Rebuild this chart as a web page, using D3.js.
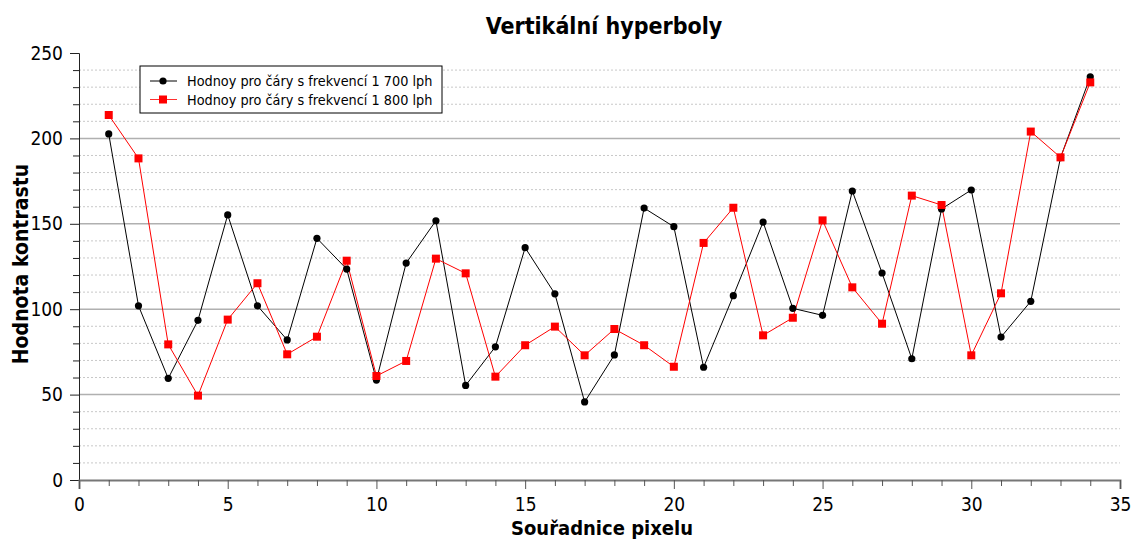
<!DOCTYPE html>
<html>
<head>
<meta charset="utf-8">
<script src="https://cdn.jsdelivr.net/npm/d3@7"></script>
<style>
  body { margin: 0; background: #fff; }
  svg text { font-family: "DejaVu Sans Condensed", "Liberation Sans", sans-serif; fill: #000; }
</style>
</head>
<body>
<div id="chart"></div>
<script>
// pixel index (1..34)
var pixels = d3.range(1, 35);

// series values
var vals1700 = [202.6, 102, 59.5, 93.5, 155.2, 102, 82, 141.5, 123.5, 58.5,
                127, 151.8, 55.4, 78, 136, 109, 45.7, 73.2, 159.2, 148.3,
                66, 107.9, 151, 100.5, 96.4, 169.2, 121.2, 71, 158.7, 169.8,
                83.7, 104.6, 188.7, 236.1];
var vals1800 = [213.7, 188.3, 79.4, 49.4, 93.9, 115.2, 73.6, 83.9, 128.4, 60.9,
                69.7, 129.6, 121, 60.5, 78.9, 89.8, 73, 88.4, 78.9, 66.3,
                138.8, 159.4, 84.7, 95, 152, 112.8, 91.5, 166.5, 161, 73,
                109.3, 204, 188.9, 232.8];

var seriesNames = ["Hodnoy pro čáry s frekvencí 1 700 lph",
                   "Hodnoy pro čáry s frekvencí 1 800 lph"];
var xTicks = [0, 5, 10, 15, 20, 25, 30, 35];
var yTicks = [0, 50, 100, 150, 200, 250];

var svgWidth = 1131;
var svgHeight = 540;
var margin = { top: 53, right: 11, bottom: 60, left: 79 };
var width = svgWidth - margin.left - margin.right;
var height = svgHeight - margin.top - margin.bottom;

var svg = d3.select("#chart").append("svg")
    .attr("width", svgWidth)
    .attr("height", svgHeight);

var g = svg.append("g")
    .attr("transform", `translate(${margin.left},${margin.top})`);

var x = d3.scaleLinear().domain([0, 35]).range([0, width]);
var y = d3.scaleLinear().domain([0, 250]).range([height, 0]);

// grid lines: dotted every 10, solid every 50
var minor = d3.range(10, 250, 10).filter(d => d % 50 !== 0);
g.selectAll(".gminor").data(minor).enter().append("line")
    .attr("x1", 0).attr("x2", width)
    .attr("y1", d => y(d)).attr("y2", d => y(d))
    .attr("stroke", "#c8c8c8")
    .attr("stroke-dasharray", "2,2");
g.selectAll(".gmajor").data([50, 100, 150, 200]).enter().append("line")
    .attr("x1", 0).attr("x2", width)
    .attr("y1", d => y(d)).attr("y2", d => y(d))
    .attr("stroke", "#b0b0b0")
    .attr("stroke-width", 1.5);

// y axis
var yAxis = g.append("g")
    .call(d3.axisLeft(y).tickValues(yTicks).tickSize(9).tickPadding(7));
yAxis.selectAll("text").style("font-size", "19px");
yAxis.select(".domain").attr("stroke", "#222");
yAxis.selectAll(".tick line").attr("stroke", "#222");
g.append("g")
    .call(d3.axisLeft(y).tickValues(d3.range(0, 251, 10).filter(d => d % 50 !== 0))
        .tickSize(6).tickFormat(""))
    .call(a => a.select(".domain").remove())
    .selectAll(".tick line").attr("stroke", "#222");

// x axis
var xAxis = g.append("g")
    .attr("transform", `translate(0,${height})`)
    .call(d3.axisBottom(x).tickValues(xTicks).tickSize(9).tickPadding(9));
xAxis.selectAll("text").style("font-size", "19px");
xAxis.select(".domain").attr("stroke", "#777").attr("stroke-width", 2);
xAxis.selectAll(".tick line").attr("stroke", "#555");
g.append("g")
    .attr("transform", `translate(0,${height})`)
    .call(d3.axisBottom(x).tickValues(d3.range(1, 35).filter(d => d % 5 !== 0))
        .tickSize(6).tickFormat(""))
    .call(a => a.select(".domain").remove())
    .selectAll(".tick line").attr("stroke", "#555");

// lines
var line = d3.line().x((d, i) => x(pixels[i])).y(d => y(d));

g.append("path").datum(vals1700)
    .attr("d", line).attr("fill", "none")
    .attr("stroke", "#000").attr("stroke-width", 1);
g.append("path").datum(vals1800)
    .attr("d", line).attr("fill", "none")
    .attr("stroke", "#ff0000").attr("stroke-width", 1);

g.selectAll(".dot").data(vals1700).enter().append("circle")
    .attr("cx", (d, i) => x(pixels[i]))
    .attr("cy", d => y(d))
    .attr("r", 3.6)
    .attr("fill", "#000");

g.selectAll(".sq").data(vals1800).enter().append("rect")
    .attr("x", (d, i) => x(pixels[i]) - 4)
    .attr("y", d => y(d) - 4)
    .attr("width", 8).attr("height", 8)
    .attr("fill", "#ff0000");

// legend
var legend = svg.append("g").attr("transform", "translate(140,66)");
legend.append("rect")
    .attr("width", 302).attr("height", 47)
    .attr("fill", "#fff").attr("stroke", "#000").attr("stroke-width", 1);
[0, 1].forEach(function(i) {
    var ly = 15 + i * 18.5;
    var col = i === 0 ? "#000" : "#ff3030";
    legend.append("line")
        .attr("x1", 10).attr("x2", 37).attr("y1", ly).attr("y2", ly)
        .attr("stroke", col).attr("stroke-width", 1);
    if (i === 0) {
        legend.append("circle").attr("cx", 23).attr("cy", ly).attr("r", 3.6).attr("fill", "#000");
    } else {
        legend.append("rect").attr("x", 19).attr("y", ly - 4)
            .attr("width", 8).attr("height", 8).attr("fill", "#ff0000");
    }
    legend.append("text")
        .attr("x", 47).attr("y", ly)
        .attr("dy", "0.35em")
        .style("font-size", "14.3px")
        .text(seriesNames[i]);
});

// title and axis labels
svg.append("text")
    .attr("x", 604).attr("y", 34)
    .attr("text-anchor", "middle")
    .style("font-size", "23px").style("font-weight", "bold")
    .text("Vertikální hyperboly");

svg.append("text")
    .attr("x", 602).attr("y", 535)
    .attr("text-anchor", "middle")
    .style("font-size", "20px").style("font-weight", "bold")
    .text("Souřadnice pixelu");

svg.append("text")
    .attr("transform", "translate(28,264) rotate(-90)")
    .attr("text-anchor", "middle")
    .style("font-size", "21px").style("font-weight", "bold")
    .text("Hodnota kontrastu");
</script>
</body>
</html>
